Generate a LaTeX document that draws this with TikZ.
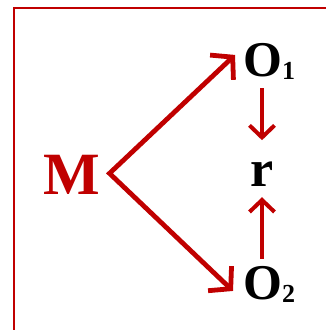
\documentclass[tikz,border=0pt]{standalone}
\usepackage{fontspec}
\setmainfont{Liberation Serif}
\usetikzlibrary{arrows.meta,calc}
\definecolor{dred}{RGB}{192,0,0}
\newcommand{\mysub}[1]{{\fontsize{26}{26}\selectfont\raisebox{-3pt}{#1}}}
\tikzset{
  lbl/.style={inner sep=0pt, font=\fontsize{50}{50}\selectfont\bfseries, text=black},
  diag/.style={draw=dred, line width=4.8pt, line join=miter, miter limit=20,
    {Straight Barb[length=15pt,width=34pt]}-{Straight Barb[length=15pt,width=34pt]}},
  varr/.style={draw=dred, line width=4pt, -{Straight Barb[length=12pt,width=25pt]}}
}
\begin{document}
\begin{tikzpicture}[x=1pt,y=-1pt]
\useasboundingbox (0,0) rectangle (326,330);
\fill[white] (0,0) rectangle (326,330);
\draw[dred, line width=2pt] (14,336) -- (14,8) -- (332,8);
\node[lbl, anchor=base, text=dred, font=\fontsize{60}{60}\selectfont\bfseries] (M) at (72,194) {M};
\node[lbl, anchor=base west] (O1) at (243,76) {O\mysub{1}};
\node[lbl, anchor=base, font=\fontsize{52}{52}\selectfont\bfseries] (r) at (262,186) {r};
\node[lbl, anchor=base west] (O2) at (243,299) {O\mysub{2}};
\draw[diag] ([shift={(-8,-6)}]O1.west) -- ([shift={(9,-1)}]M.east) -- ([shift={(-10,7)}]O2.west);
\draw[varr] ([yshift=-9pt]r.north |- O1.south) -- ([yshift=21pt]r.north);
\draw[varr] ([yshift=7pt]r.south |- O2.north) -- ([yshift=-11pt]r.south);
\end{tikzpicture}
\end{document}
